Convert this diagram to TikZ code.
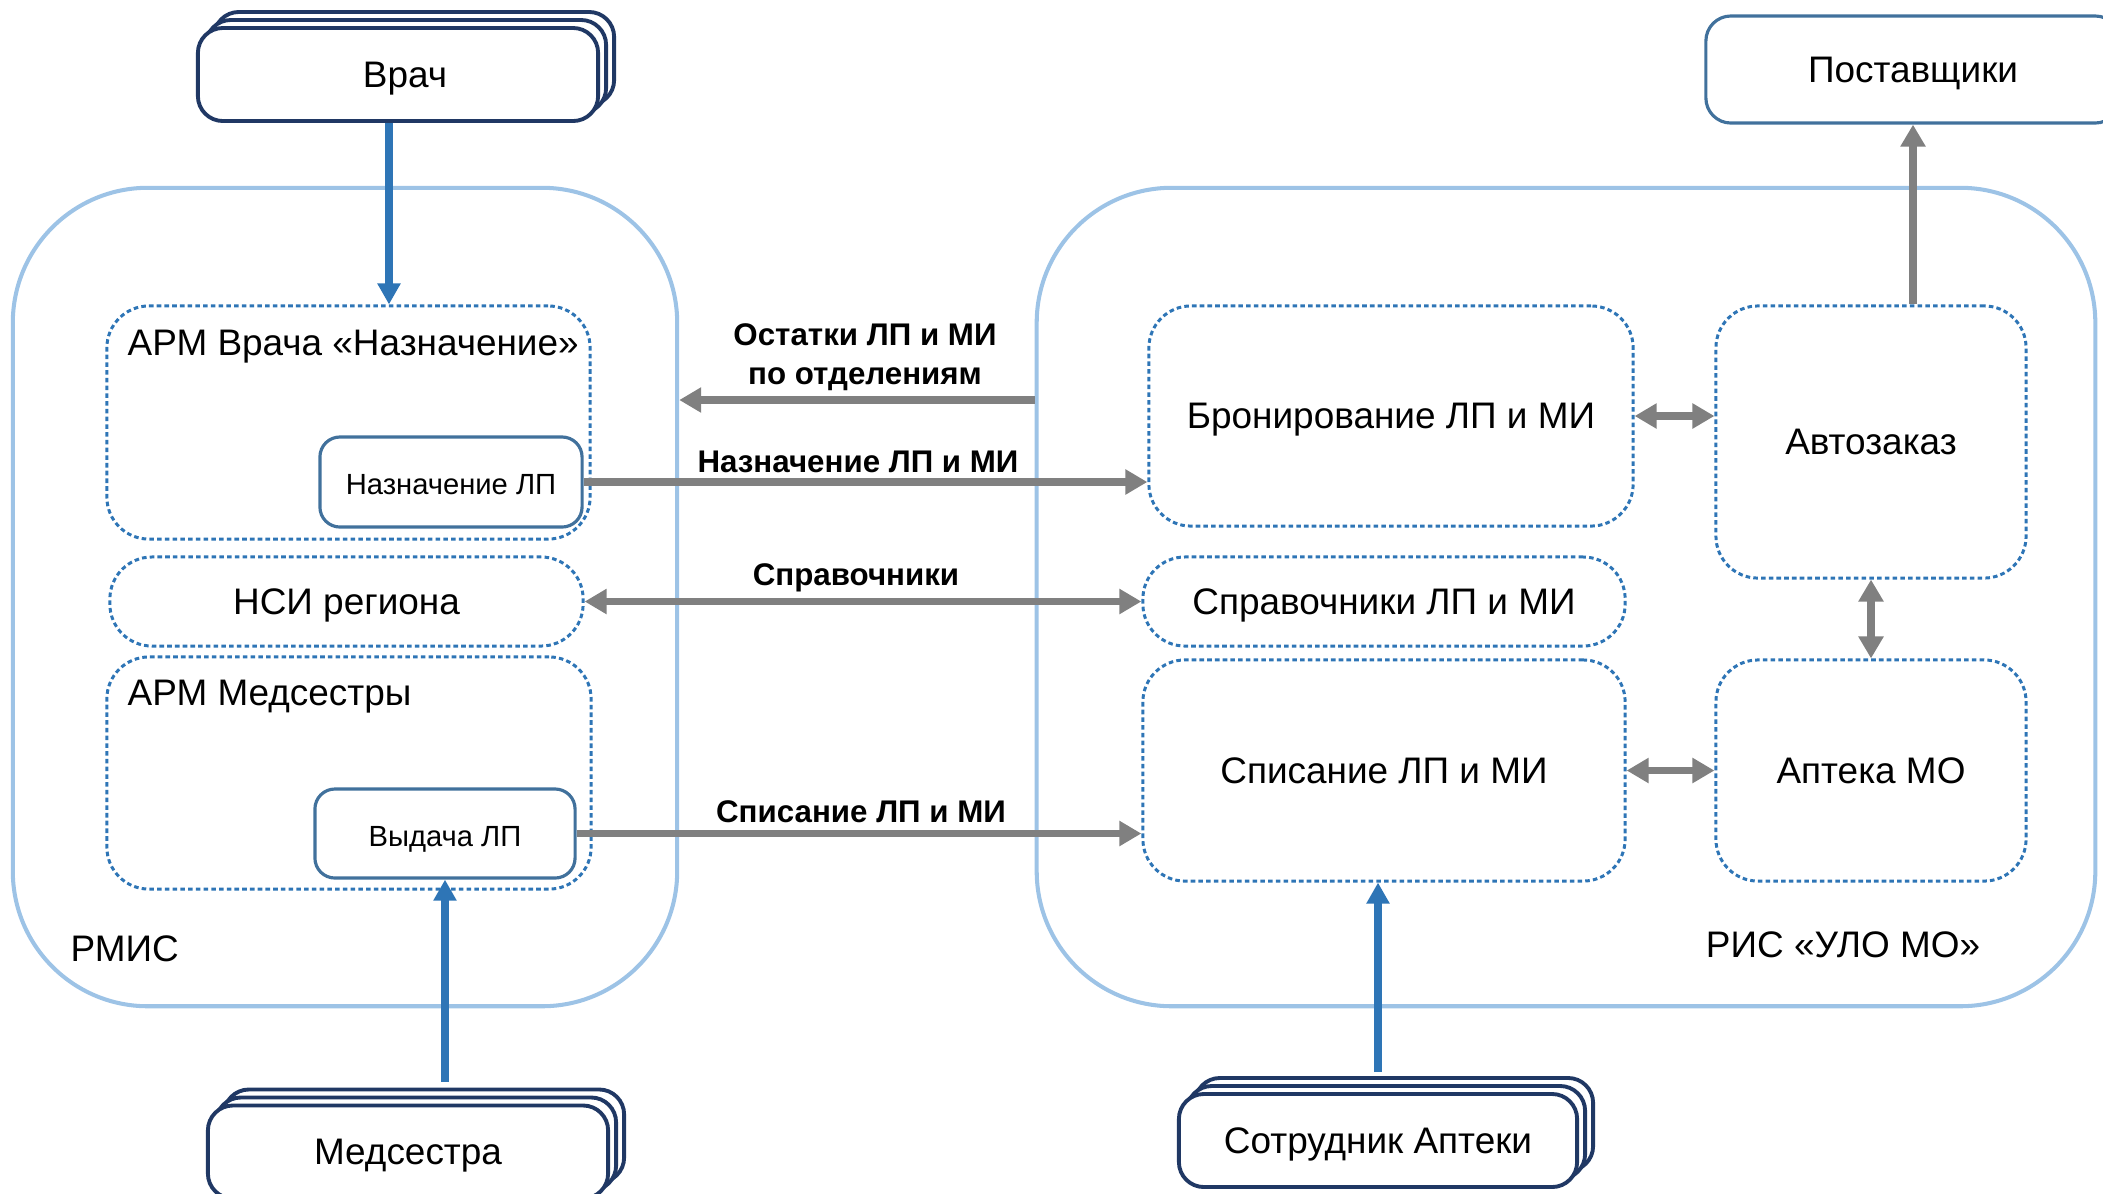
\documentclass[tikz,border=0pt]{standalone}
\usepackage{fontspec}
\setmainfont{Liberation Sans}
\usetikzlibrary{arrows.meta,shadows}
\definecolor{frameblue}{HTML}{9DC3E6}
\definecolor{dotblue}{HTML}{2E75B6}
\definecolor{navy}{HTML}{203864}
\definecolor{boxblue}{HTML}{41719C}
\definecolor{flowgray}{HTML}{808080}

\begin{document}
\begin{tikzpicture}[x=0.01cm, y=-0.01cm,
    sys/.style={draw=frameblue, line width=1.15pt, rounded corners=1.35cm, inner sep=0pt},
    part/.style={draw=dotblue, line width=0.85pt, dash pattern=on 1.3pt off 0.9pt,
      rounded corners=0.42cm, inner sep=0pt, text height=0.72em, text depth=0pt,
      font=\fontsize{10.5}{12}\selectfont},
    func/.style={draw=boxblue, line width=0.9pt, fill=white, rounded corners=0.2cm,
      inner sep=0pt, text height=0.72em, text depth=0pt, font=\fontsize{8.3}{10}\selectfont},
    ext/.style={draw=boxblue, line width=0.9pt, rounded corners=0.25cm, inner sep=0pt,
      text height=0.72em, text depth=0pt, font=\fontsize{10.5}{12}\selectfont},
    actor/.style={draw=navy, fill=white, line width=1.1pt, rounded corners=0.25cm,
      inner sep=0pt, minimum width=4cm, minimum height=0.93cm,
      text height=0.72em, text depth=0pt, font=\fontsize{10.5}{12}\selectfont,
      copy shadow={shadow xshift=0.16cm, shadow yshift=0.16cm, draw=navy, fill=white, line width=1.1pt},
      copy shadow={shadow xshift=0.08cm, shadow yshift=0.08cm, draw=navy, fill=white, line width=1.1pt}},
    txt/.style={inner sep=0pt, text height=0.72em, text depth=0pt, font=\fontsize{10.5}{12}\selectfont},
    lbl/.style={inner sep=0pt, align=center, font=\fontsize{8.9}{11.2}\selectfont\bfseries},
    flow/.style={draw=flowgray, line width=2.1pt, -{Triangle[length=0.22cm,width=0.24cm]}},
    both/.style={flow, {Triangle[length=0.22cm,width=0.24cm]}-{Triangle[length=0.22cm,width=0.24cm]}},
    usr/.style={draw=dotblue, line width=2.1pt, -{Triangle[length=0.21cm,width=0.22cm]}}]
  \useasboundingbox (0,0) rectangle (2103,1193);
  \clip (0,0) rectangle (2103,1193);

  % systems
  \node[sys, minimum width=6.64cm, minimum height=8.18cm] (rmis) at (345,597) {};
  \node[sys, minimum width=10.58cm, minimum height=8.18cm] (ris) at (1566,597) {};
  \node[txt, anchor=west] (rmist) at (70,949) {РМИС};
  \node[txt] (rist) at (1843,945) {РИС «УЛО МО»};

  % RMIS parts
  \node[part, minimum width=4.83cm, minimum height=2.33cm] (armv) at (348.5,422.5) {};
  \node[txt, anchor=west] (armvt) at (127,343) {АРМ Врача «Назначение»};
  \node[func, minimum width=2.62cm, minimum height=0.9cm] (nazn) at (451,482) {Назначение ЛП};
  \node[part, minimum width=4.73cm, minimum height=0.89cm] (nsi) at (346.5,601.5) {НСИ региона};
  \node[part, minimum width=4.84cm, minimum height=2.32cm] (armm) at (349,773) {};
  \node[txt, anchor=west] (armmt) at (127,693) {АРМ Медсестры};
  \node[func, minimum width=2.6cm, minimum height=0.89cm] (vyd) at (445,833.5) {Выдача ЛП};

  % RIS parts
  \node[part, minimum width=4.84cm, minimum height=2.2cm] (bron) at (1391,416) {Бронирование ЛП и МИ};
  \node[part, minimum width=4.82cm, minimum height=0.89cm] (sprav) at (1384,601.5) {Справочники ЛП и МИ};
  \node[part, minimum width=4.82cm, minimum height=2.21cm] (spis) at (1384,770.5) {Списание ЛП и МИ};
  \node[part, minimum width=3.1cm, minimum height=2.72cm] (avto) at (1871,442) {Автозаказ};
  \node[part, minimum width=3.1cm, minimum height=2.21cm] (apt) at (1871,770.5) {Аптека МО};
  \node[ext, minimum width=4.14cm, minimum height=1.07cm] (post) at (1913,69.5) {Поставщики};

  % users
  \node[actor] (vrach) at (398,74.5) {\hspace{0.14cm}Врач};
  \node[actor] (meds) at (408,1152) {Медсестра};
  \node[actor, minimum width=3.98cm] (sotr) at (1378,1140.5) {Сотрудник Аптеки};

  \draw[usr] ([xshift=-0.09cm]vrach.south) coordinate (vs) -- (vs |- armv.north);
  \draw[usr] (vyd.south |- meds.north) ++(0,-22) -- (vyd.south);
  \draw[usr] (sotr.north) ++(0,-20) -- (sotr.north |- spis.south);

  % exchange
  \coordinate (ostrow) at (0,400);
  \draw[flow] (ris.west |- ostrow) -- (rmis.east |- ostrow);
  \draw[flow] (nazn.east) -- (bron.west |- nazn.east);
  \draw[both] (nsi.east) -- (sprav.west);
  \draw[flow] (vyd.east) -- (spis.west |- vyd.east);
  \draw[both] (bron.east) -- (avto.west |- bron.east);
  \draw[both] (avto.south) -- (apt.north);
  \draw[both] (spis.east) -- (apt.west);
  \draw[flow] (avto.north -| post.south) -- (post.south);

  \node[lbl] (ostl) at (865,357) {Остатки ЛП и МИ\\по отделениям};
  \node[lbl, text height=0.72em, text depth=0pt] (naznl) at (858,460) {Назначение ЛП и МИ};
  \node[lbl, text height=0.72em, text depth=0pt] (spravl) at (856,573) {Справочники};
  \node[lbl, text height=0.72em, text depth=0pt] (spisl) at (861,810) {Списание ЛП и МИ};
\end{tikzpicture}
\end{document}
